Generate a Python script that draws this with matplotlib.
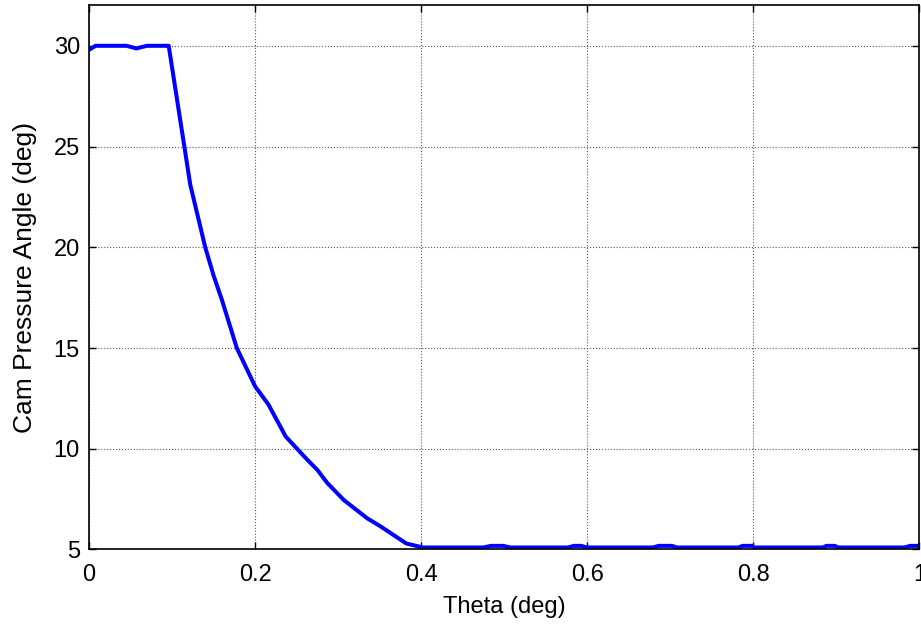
import matplotlib.pyplot as plt
from matplotlib.ticker import FormatStrFormatter

# cam pressure angle vs cam rotation
theta = [0.000, 0.008, 0.045, 0.057, 0.070, 0.096, 0.122, 0.140, 0.150, 0.160,
         0.178, 0.200, 0.216, 0.237, 0.263, 0.275, 0.287, 0.307, 0.335, 0.351,
         0.382, 0.402,
         0.475, 0.484, 0.499, 0.507,
         0.577, 0.584, 0.593, 0.599,
         0.679, 0.686, 0.702, 0.708,
         0.782, 0.787, 0.798, 0.802,
         0.884, 0.888, 0.898, 0.902,
         0.982, 0.989, 1.000]
pressure_angle = [29.8, 30.0, 30.0, 29.87, 30.0, 30.0, 23.1, 20.0, 18.6, 17.4,
                  15.0, 13.1, 12.2, 10.6, 9.45, 8.95, 8.3, 7.45, 6.55, 6.15,
                  5.3, 5.1,
                  5.1, 5.18, 5.18, 5.1,
                  5.1, 5.18, 5.18, 5.1,
                  5.1, 5.18, 5.18, 5.1,
                  5.1, 5.18, 5.18, 5.1,
                  5.1, 5.18, 5.18, 5.1,
                  5.1, 5.18, 5.18]

x_ticks = [0, 0.2, 0.4, 0.6, 0.8, 1.0]
y_ticks = [5, 10, 15, 20, 25, 30]

plt.rcParams['font.family'] = ['Liberation Sans', 'DejaVu Sans']
plt.rcParams['font.size'] = 17

fig = plt.figure(figsize=(9.21, 6.24), dpi=100)
ax = fig.add_axes([0.0966, 0.1194, 0.9017, 0.8718])

ax.plot(theta, pressure_angle, color='#0000ff', linewidth=2.9)

ax.set_xlim(0, 1)
ax.set_ylim(5, 32)
ax.set_xticks(x_ticks)
ax.set_yticks(y_ticks)
ax.xaxis.set_major_formatter(FormatStrFormatter('%g'))

# matlab-ish look: ticks inside on every side, dotted grid
ax.grid(True, linestyle=':', color='#5a5a5a', linewidth=0.8)
ax.tick_params(direction='in', top=True, right=True, length=5, width=1)
ax.tick_params(axis='x', pad=10.5)
ax.tick_params(axis='y', pad=6.5)
for s in ax.spines.values():
    s.set_linewidth(1.2)

ax.set_xlabel('Theta (deg)', labelpad=7)
ax.set_ylabel('Cam Pressure Angle (deg)', fontsize=19, labelpad=12)

fig.savefig('out.png', dpi=100)
